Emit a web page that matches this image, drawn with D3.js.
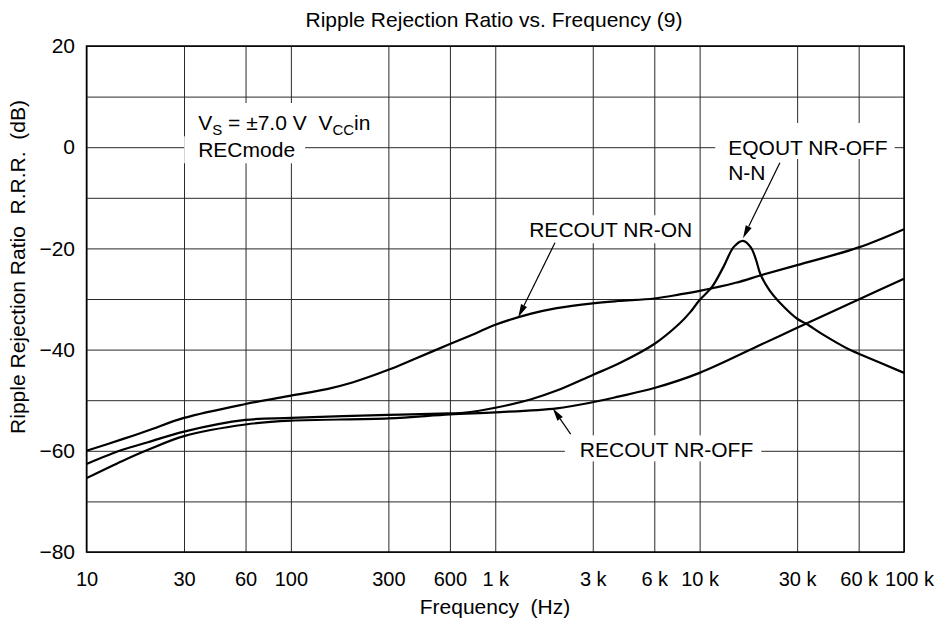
<!DOCTYPE html>
<html><head><meta charset="utf-8">
<script src="https://cdn.jsdelivr.net/npm/d3@7"></script>
<style>
body{margin:0;background:#fff;}
svg text{font-family:"Liberation Sans",Arial,sans-serif;fill:#000;}
</style></head>
<body><svg id="c" width="944" height="629"></svg>
<script>
// ---- data ----
const xTickValues = [10,30,60,100,300,600,1000,3000,6000,10000,30000,60000,100000];
const xTickLabels = ["10","30","60","100","300","600","1 k","3 k","6 k","10 k","30 k","60 k","100 k"];
const yGridValues = [20,10,0,-10,-20,-30,-40,-50,-60,-70,-80];
const yTickValues = [20,0,-20,-40,-60,-80];
const yTickLabels = ["20","0","\u221220","\u221240","\u221260","\u221280"];

const recoutNrOnFreq = [10,15,20,30,60,100,150,200,300,400,600,800,1000,1500,2000,3000,4000,6000,8000,10000,15000,20000,30000,60000,100000];
const recoutNrOnDb   = [-60,-57.7,-56.0,-53.5,-50.75,-49.1,-47.8,-46.5,-44.0,-41.9,-38.9,-36.8,-35.1,-32.9,-31.8,-30.85,-30.4,-29.9,-29.1,-28.4,-26.8,-25.3,-23.3,-19.8,-16.2];

const eqoutFreq = [10,15,20,30,60,100,300,600,700,1000,1500,2000,3000,4000,6000,8000,9000,10000,11500,13100,14700,16300,17800,18900,19800,21900,25600,30000,33300,40000,54000,60000,100000];
const eqoutDb   = [-62.6,-59.8,-58.3,-56.2,-53.9,-53.5,-52.9,-52.6,-52.5,-51.5,-49.8,-48.1,-45.0,-42.8,-38.9,-34.8,-32.6,-30.2,-27.6,-23.6,-19.7,-18.5,-19.8,-22.3,-25.0,-28.2,-31.4,-33.9,-34.9,-37.0,-40.0,-40.8,-44.6];

const recoutNrOffFreq = [10,15,20,30,60,100,300,600,1000,2000,3000,4000,6000,10000,20000,30000,60000,100000];
const recoutNrOffDb   = [-65.4,-62.0,-59.8,-57.1,-54.8,-54.05,-53.6,-52.8,-52.4,-51.6,-50.4,-49.3,-47.6,-44.6,-39.0,-35.7,-30.1,-26.0];

// annotation anchors (frequency, dB)
const arrowNames = ["EQOUT NR-OFF","RECOUT NR-ON","RECOUT NR-OFF"];
const arrowTailF = [24700,1959,2339];
const arrowTailV = [-3.06,-18.9,-56.7];
const arrowTipF  = [16300,1296,1910];
const arrowTipV  = [-18.0,-33.6,-51.6];

// ---- chart ----
const svg = d3.select("#c");
const L=86.5,R=904,T=46,B=552;
const x = d3.scaleLog().domain([10,100000]).range([L,R]);
const y = d3.scaleLinear().domain([-80,20]).range([B,T]);
const FS = 21, TFS = 20;

// grid
svg.append("g").attr("transform",`translate(0,${B})`)
  .call(d3.axisBottom(x).tickValues(xTickValues).tickSize(-(B-T)).tickFormat(""))
  .call(g=>g.select(".domain").remove())
  .call(g=>g.selectAll("line").attr("stroke","#2a2a2a").attr("stroke-width",1));
svg.append("g").attr("transform",`translate(${L},0)`)
  .call(d3.axisLeft(y).tickValues(yGridValues).tickSize(-(R-L)).tickFormat(""))
  .call(g=>g.select(".domain").remove())
  .call(g=>g.selectAll("line").attr("stroke","#2a2a2a").attr("stroke-width",1));

// tick labels
svg.append("g").attr("transform",`translate(0,${B})`)
  .call(d3.axisBottom(x).tickValues(xTickValues).tickSize(0).tickPadding(19.5)
        .tickFormat((d,i)=>xTickLabels[i]))
  .call(g=>g.select(".domain").remove())
  .call(g=>g.selectAll("text").attr("font-size",TFS).attr("font-family","Liberation Sans, Arial, sans-serif"))
  .call(g=>g.selectAll(".tick").filter(d=>d===100000).select("text").attr("dx",5));
svg.append("g").attr("transform",`translate(${L},0)`)
  .call(d3.axisLeft(y).tickValues(yTickValues).tickSize(0).tickPadding(11.5)
        .tickFormat((d,i)=>yTickLabels[i]))
  .call(g=>g.select(".domain").remove())
  .call(g=>g.selectAll("text").attr("font-size",FS).attr("font-family","Liberation Sans, Arial, sans-serif"));

// background-masked text helper
const annG = svg.append("g");
function maskedText(px,py,build,padX,padY){
  const g = annG.append("g");
  const r = g.append("rect").attr("fill","#fff");
  const t = g.append("text").attr("x",px).attr("y",py).attr("font-size",FS).style("white-space","pre");
  build(t);
  const b = t.node().getBBox();
  r.attr("x",b.x-padX[0]).attr("y",b.y-padY[0]).attr("width",b.width+padX[0]+padX[1]).attr("height",b.height+padY[0]+padY[1]);
  return g;
}

// curves
const line = d3.line().x(d=>x(d[0])).y(d=>y(d[1])).curve(d3.curveCatmullRom.alpha(0.5));
const series = [
  recoutNrOnFreq.map((f,i)=>[f,recoutNrOnDb[i]]),
  eqoutFreq.map((f,i)=>[f,eqoutDb[i]]),
  recoutNrOffFreq.map((f,i)=>[f,recoutNrOffDb[i]])
];

// labels (masked)
maskedText(x(35.2),y(3.4),t=>{
  t.append("tspan").text("V");
  t.append("tspan").attr("font-size",15).attr("dy",5).text("S");
  t.append("tspan").attr("dy",-5).text(" = \u00b17.0 V  V");
  t.append("tspan").attr("font-size",15).attr("dy",5).text("CC");
  t.append("tspan").attr("dy",-5).text("in");
},[13,4],[8,2]);
maskedText(x(35.2),y(-2.0),t=>t.text("RECmode"),[14,10],[2,2]);
maskedText(x(13800),y(-1.54),t=>t.text("EQOUT NR-OFF"),[13,7],[13,0]);
annG.append("text").attr("x",x(13800)).attr("y",y(-6.5)).attr("font-size",FS).text("N-N");
maskedText(x(1466),y(-17.8),t=>t.text("RECOUT NR-ON"),[6,6],[3,2]);
maskedText(x(2594),y(-61.3),t=>t.text("RECOUT NR-OFF"),[15,8],[3,0]);

svg.append("g").selectAll("path").data(series).join("path")
  .attr("d",line).attr("fill","none").attr("stroke","#000").attr("stroke-width",2.2);

// border
svg.append("rect").attr("x",L).attr("y",T).attr("width",R-L).attr("height",B-T)
  .attr("fill","none").attr("stroke","#000").attr("stroke-width",1.5);

// arrows
const arrG = svg.append("g");
arrowNames.forEach((n,i)=>{
  const x1=x(arrowTailF[i]),y1=y(arrowTailV[i]),x2=x(arrowTipF[i]),y2=y(arrowTipV[i]);
  const dx=x2-x1,dy=y2-y1,len=Math.hypot(dx,dy),ux=dx/len,uy=dy/len;
  const hl=13,hw=3.3;
  const bx=x2-ux*hl,by=y2-uy*hl;
  arrG.append("line").attr("x1",x1).attr("y1",y1).attr("x2",bx).attr("y2",by)
    .attr("stroke","#000").attr("stroke-width",1.2);
  arrG.append("path").attr("d",`M${x2},${y2}L${bx-uy*hw},${by+ux*hw}L${bx+uy*hw},${by-ux*hw}Z`)
    .attr("fill","#000");
});

// titles
svg.append("text").attr("x",494).attr("y",27).attr("text-anchor","middle").attr("font-size",FS)
  .text("Ripple Rejection Ratio vs. Frequency (9)");
svg.append("text").attr("x",495).attr("y",614).attr("text-anchor","middle").attr("font-size",FS)
  .style("white-space","pre").text("Frequency  (Hz)");
svg.append("text").attr("transform","translate(25,267) rotate(-90)").attr("text-anchor","middle")
  .attr("font-size",FS).style("white-space","pre").text("Ripple Rejection Ratio  R.R.R.  (dB)");
</script></body></html>
